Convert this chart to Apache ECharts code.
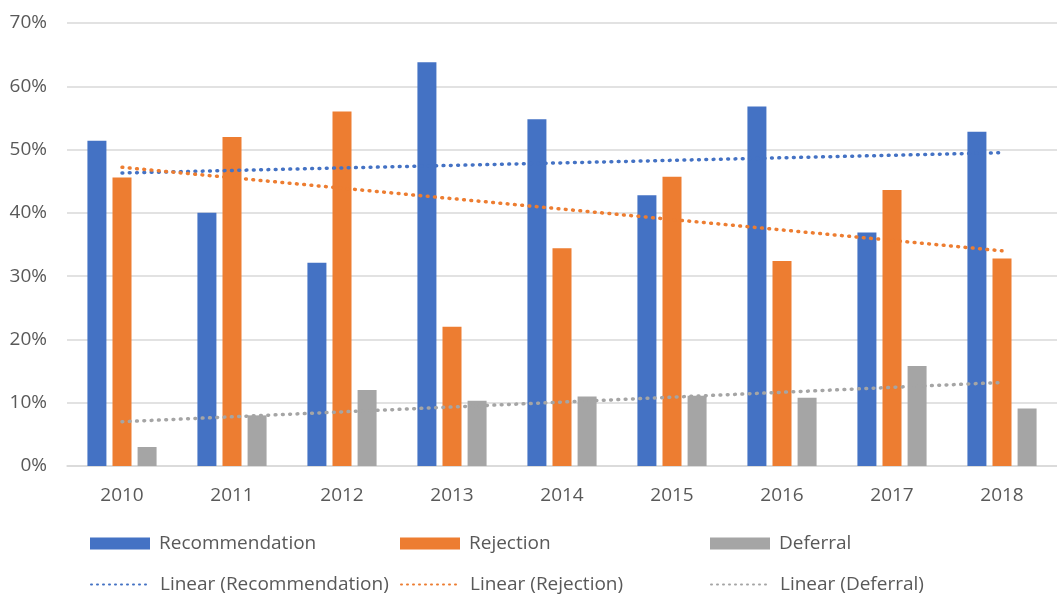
<!DOCTYPE html>
<html>
<head>
<meta charset="utf-8">
<script src="https://cdn.jsdelivr.net/npm/echarts@6/dist/echarts.min.js"></script>
<style>
html,body{margin:0;padding:0;background:#fff;}
#chart{width:1057px;height:596px;}
</style>
</head>
<body>
<div id="chart"></div>
<script>
const categories = ['2010','2011','2012','2013','2014','2015','2016','2017','2018'];
const recommendation = [51.4, 40.0, 32.1, 63.8, 54.8, 42.8, 56.8, 36.9, 52.8];
const rejection = [45.6, 52.0, 56.0, 22.0, 34.4, 45.7, 32.4, 43.6, 32.8];
const deferral = [3.0, 8.0, 12.0, 10.3, 11.0, 11.1, 10.8, 15.8, 9.1];
// trend line end points (first and last category)
const recTrend = [46.3, 49.5];
const rejTrend = [47.2, 34.0];
const defTrend = [7.0, 13.2];

const BLUE = '#4472C4', ORANGE = '#ED7D31', GRAY = '#A5A5A5';
const FONT = 'Open Sans';
const TXT = '#595959';

function trendData(ends) {
  const d = categories.map(() => null);
  d[0] = ends[0];
  d[d.length - 1] = ends[1];
  return d;
}

const chart = echarts.init(document.getElementById('chart'), null, {renderer: 'canvas'});

function barSeries(name, data, color) {
  return {
    name, type: 'bar', data, barWidth: 19, barGap: '32%',
    itemStyle: {color}, z: 2
  };
}
function trendSeries(name, ends, color) {
  return {
    name, type: 'line', data: trendData(ends), connectNulls: true,
    symbol: 'none', showSymbol: false, silent: true, z: 5,
    lineStyle: {color, width: 3.5, type: [0.8, 6.5], cap: 'round'},
    itemStyle: {color}
  };
}

function legendItem(name, left, top, isLine) {
  const l = {
    data: [name], left, top, orient: 'horizontal',
    itemWidth: 60, itemHeight: 12,
    selectedMode: false,
    textStyle: {fontFamily: FONT, fontSize: 19, color: TXT, padding: [0, 0, 0, 4]},
    padding: 0
  };
  if (isLine) {
    l.itemStyle = {opacity: 0};
    l.lineStyle = {width: 2, type: [1, 5], cap: 'round'};
  } else {
    l.icon = 'rect';
  }
  return l;
}

chart.setOption({
  animation: false,
  backgroundColor: '#fff',
  grid: {left: 67, top: 23, width: 1001, height: 443, containLabel: false},
  xAxis: {
    type: 'category', data: categories,
    axisLine: {show: true, lineStyle: {color: '#d9d9d9', width: 1.5}},
    axisTick: {show: false},
    axisLabel: {fontFamily: FONT, fontSize: 19, color: TXT, margin: 20}
  },
  yAxis: {
    type: 'value', min: 0, max: 70, interval: 10,
    axisLine: {show: false}, axisTick: {show: false},
    splitLine: {lineStyle: {color: '#d9d9d9', width: 1.5}},
    axisLabel: {fontFamily: FONT, fontSize: 19, color: TXT, margin: 20, formatter: v => v + '%'}
  },
  legend: [
    legendItem('Recommendation', 90, 534, false),
    legendItem('Rejection', 400, 534, false),
    legendItem('Deferral', 710, 534, false),
    legendItem('Linear (Recommendation)', 90, 575, true),
    legendItem('Linear (Rejection)', 400, 575, true),
    legendItem('Linear (Deferral)', 710, 575, true)
  ],
  series: [
    barSeries('Recommendation', recommendation, BLUE),
    barSeries('Rejection', rejection, ORANGE),
    barSeries('Deferral', deferral, GRAY),
    trendSeries('Linear (Recommendation)', recTrend, BLUE),
    trendSeries('Linear (Rejection)', rejTrend, ORANGE),
    trendSeries('Linear (Deferral)', defTrend, GRAY)
  ]
});
</script>
</body>
</html>
